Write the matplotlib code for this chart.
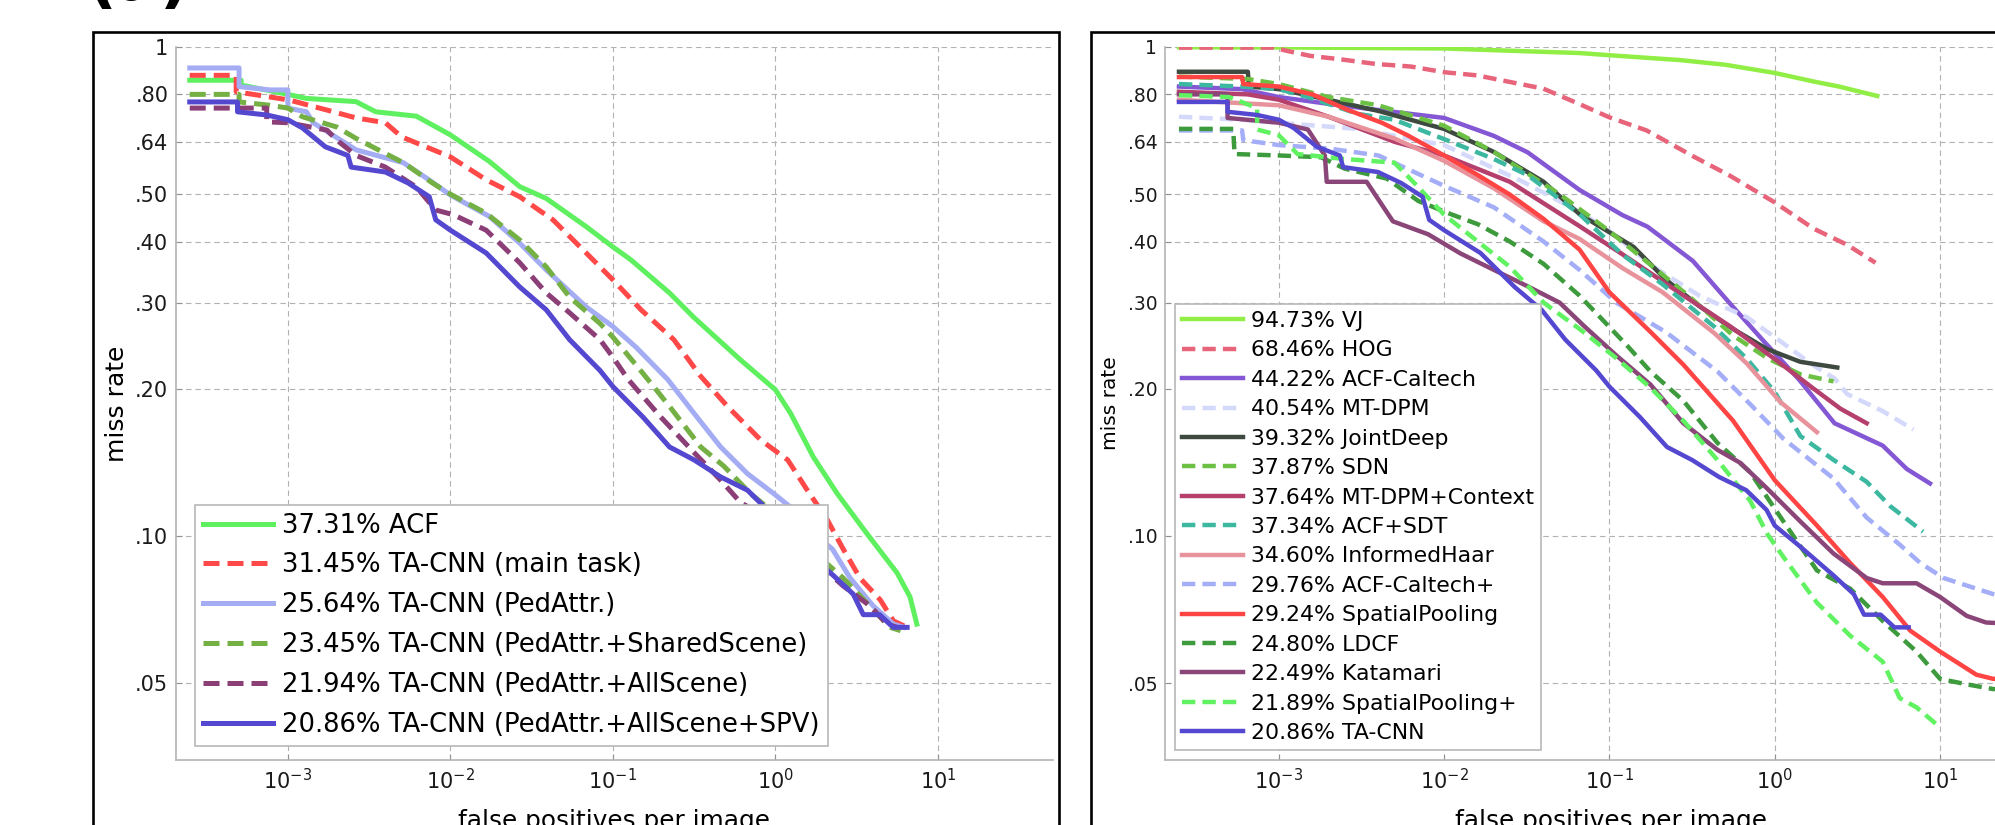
import numpy as np
import matplotlib
matplotlib.use('Agg')
import matplotlib.pyplot as plt
from matplotlib.patches import Rectangle
from matplotlib.ticker import NullLocator

plt.rcParams['font.family'] = ['DejaVu Sans']
plt.rcParams['mathtext.default'] = 'regular'

# ---- left panel: TA-CNN variants vs ACF ----
acf_fppi = [2.49e-4, 5.16e-4, 5.16e-4, 1.0e-3, 1.30e-3, 2.63e-3, 3.47e-3, 6.17e-3, 1.0e-2, 1.74e-2, 2.67e-2, 3.89e-2, 6.85e-2,
            0.10, 0.129, 0.223, 0.314, 0.61, 1.0, 1.24, 1.71, 2.40, 3.66, 5.6, 6.73, 7.41]
acf_mr = [0.855, 0.855, 0.836, 0.80, 0.785, 0.773, 0.737, 0.722, 0.661, 0.583, 0.518, 0.49, 0.429,
          0.39, 0.367, 0.314, 0.28, 0.229, 0.199, 0.178, 0.145, 0.122, 0.101, 0.084, 0.075, 0.066]

main_fppi = [2.49e-4, 4.81e-4, 4.81e-4, 1.02e-3, 1.74e-3, 2.63e-3, 3.98e-3, 5.01e-3, 1.0e-2, 1.66e-2, 2.67e-2, 4.28e-2, 6.85e-2,
             0.10, 0.149, 0.237, 0.347, 0.507, 0.813, 1.19, 1.57, 2.08, 2.61, 3.31, 4.41, 5.32, 6.46]
main_mr = [0.875, 0.875, 0.81, 0.779, 0.743, 0.716, 0.70, 0.655, 0.596, 0.535, 0.494, 0.443, 0.379,
           0.334, 0.29, 0.252, 0.212, 0.184, 0.157, 0.143, 0.124, 0.108, 0.094, 0.082, 0.074, 0.067, 0.065]

ped_fppi = [2.49e-4, 5.01e-4, 5.01e-4, 7.76e-4, 1.0e-3, 1.0e-3, 1.30e-3, 1.43e-3, 2.63e-3, 5.13e-3, 7.08e-3, 1.0e-2, 1.74e-2,
            2.67e-2, 3.89e-2, 6.85e-2, 0.10, 0.139, 0.217, 0.316, 0.46, 0.673, 0.977, 1.30, 1.78, 2.24, 2.88, 3.98, 5.32, 6.17]
ped_mr = [0.906, 0.906, 0.83, 0.817, 0.817, 0.75, 0.737, 0.70, 0.616, 0.58, 0.54, 0.498, 0.45,
          0.397, 0.35, 0.294, 0.268, 0.243, 0.209, 0.178, 0.152, 0.134, 0.122, 0.113, 0.10, 0.094, 0.082, 0.072, 0.066, 0.065]

shared_fppi = [2.49e-4, 5.01e-4, 5.01e-4, 7.76e-4, 1.0e-3, 1.23e-3, 2.0e-3, 2.63e-3, 3.47e-3, 5.13e-3, 7.76e-3, 1.0e-2, 1.66e-2,
               2.67e-2, 3.89e-2, 5.41e-2, 8.32e-2, 0.10, 0.153, 0.223, 0.347, 0.48, 0.703, 0.933, 1.58, 2.61, 3.78, 5.07, 5.89]
shared_mr = [0.80, 0.80, 0.772, 0.76, 0.75, 0.72, 0.686, 0.65, 0.62, 0.58, 0.527, 0.50, 0.457,
             0.403, 0.355, 0.308, 0.272, 0.255, 0.215, 0.184, 0.152, 0.139, 0.122, 0.113, 0.095, 0.082, 0.072, 0.065, 0.064]

allsc_fppi = [2.49e-4, 7.41e-4, 7.41e-4, 1.0e-3, 1.74e-3, 2.0e-3, 2.63e-3, 3.98e-3, 6.17e-3, 8.13e-3, 1.04e-2, 1.66e-2, 2.67e-2,
              3.89e-2, 5.41e-2, 8.32e-2, 0.10, 0.124, 0.197, 0.316, 0.46, 0.61, 0.733, 1.41, 2.61, 3.8, 4.86, 5.62]
allsc_mr = [0.75, 0.75, 0.703, 0.70, 0.676, 0.645, 0.60, 0.568, 0.517, 0.464, 0.454, 0.422, 0.362,
            0.314, 0.286, 0.252, 0.232, 0.209, 0.175, 0.148, 0.13, 0.117, 0.113, 0.095, 0.079, 0.072, 0.066, 0.065]

# full TA-CNN, same curve in both panels
tacnn_fppi = [2.49e-4, 4.9e-4, 4.9e-4, 7.41e-4, 1.0e-3, 1.23e-3, 1.70e-3, 2.34e-3, 2.45e-3, 3.98e-3, 5.5e-3, 7.41e-3, 8.13e-3,
              1.0e-2, 1.66e-2, 2.67e-2, 3.89e-2, 5.41e-2, 8.32e-2, 0.10, 0.153, 0.223, 0.316, 0.46, 0.673, 0.893, 1.0,
              1.43, 2.27, 3.01, 3.47, 4.37, 5.3, 6.46]
tacnn_mr = [0.772, 0.772, 0.737, 0.726, 0.71, 0.683, 0.625, 0.60, 0.568, 0.555, 0.527, 0.494, 0.443,
            0.422, 0.379, 0.323, 0.29, 0.252, 0.218, 0.202, 0.175, 0.152, 0.143, 0.132, 0.124, 0.113, 0.105,
            0.095, 0.083, 0.076, 0.069, 0.069, 0.065, 0.065]

left_labels = ['37.31% ACF', '31.45% TA-CNN (main task)', '25.64% TA-CNN (PedAttr.)',
               '23.45% TA-CNN (PedAttr.+SharedScene)', '21.94% TA-CNN (PedAttr.+AllScene)',
               '20.86% TA-CNN (PedAttr.+AllScene+SPV)']

# ---- right panel: comparison with other methods ----
vj_fppi = [2.49e-4, 1e-3, 1e-2, 3.16e-2, 6.6e-2, 0.1, 0.27, 0.5, 1.0, 1.72, 2.45, 4.17]
vj_mr = [0.999, 0.998, 0.993, 0.98, 0.972, 0.962, 0.94, 0.92, 0.885, 0.85, 0.83, 0.794]

hog_fppi = [2.49e-4, 9.33e-4, 1.12e-3, 1.55e-3, 2.34e-3, 3.89e-3, 6.31e-3, 1.0e-2, 1.58e-2, 2.51e-2, 3.98e-2, 6.61e-2,
            0.10, 0.168, 0.323, 0.538, 1.0, 1.72, 2.74, 4.07]
hog_mr = [0.997, 0.997, 0.982, 0.959, 0.944, 0.923, 0.912, 0.888, 0.875, 0.848, 0.822, 0.764,
          0.718, 0.675, 0.597, 0.545, 0.481, 0.425, 0.394, 0.362]

acfc_fppi = [2.49e-4, 6e-4, 1e-3, 2e-3, 3.9e-3, 1e-2, 2e-2, 3.2e-2, 6.6e-2, 0.12, 0.17, 0.32, 0.54, 0.86, 1.4, 2.3, 4.5, 6.3, 8.7]
acfc_mr = [0.83, 0.82, 0.79, 0.765, 0.744, 0.716, 0.658, 0.609, 0.51, 0.453, 0.429, 0.365, 0.298, 0.25, 0.209, 0.17, 0.153, 0.137, 0.128]

mtdpm_fppi = [2.49e-4, 6e-4, 1e-3, 3e-3, 1e-2, 3e-2, 6.6e-2, 0.1, 0.19, 0.35, 0.68, 1.0, 1.72, 2.3, 2.74, 4.5, 6.9]
mtdpm_mr = [0.72, 0.71, 0.70, 0.68, 0.63, 0.53, 0.46, 0.42, 0.353, 0.31, 0.28, 0.255, 0.223, 0.21, 0.195, 0.18, 0.165]

jd_fppi = [2.49e-4, 6.5e-4, 6.6e-4, 1e-3, 2e-3, 4e-3, 1e-2, 2e-2, 4e-2, 6.6e-2, 0.14, 0.22, 0.35, 0.56, 0.9, 1.43, 2.39]
jd_mr = [0.89, 0.89, 0.83, 0.82, 0.78, 0.74, 0.68, 0.61, 0.53, 0.455, 0.39, 0.334, 0.295, 0.265, 0.241, 0.227, 0.221]

sdn_fppi = [2.49e-4, 6.5e-4, 1e-3, 2e-3, 4e-3, 1e-2, 2e-2, 5e-2, 0.1, 0.3, 0.56, 0.9, 1.43, 2.27]
sdn_mr = [0.87, 0.86, 0.84, 0.79, 0.76, 0.69, 0.61, 0.50, 0.42, 0.31, 0.257, 0.231, 0.214, 0.207]

ctx_fppi = [2.49e-4, 6.5e-4, 1e-3, 2e-3, 5e-3, 1e-2, 2.5e-2, 6.6e-2, 0.13, 0.27, 0.54, 1.0, 1.72, 2.5, 3.6]
ctx_mr = [0.81, 0.80, 0.78, 0.72, 0.64, 0.60, 0.53, 0.43, 0.37, 0.313, 0.268, 0.23, 0.2, 0.182, 0.17]

sdt_fppi = [2.49e-4, 6e-4, 1e-3, 1.5e-3, 3e-3, 5e-3, 1e-2, 2e-2, 3.2e-2, 6.6e-2, 0.12, 0.21, 0.43, 0.68, 1.0, 1.43, 2.27, 3.6, 5.0, 7.9]
sdt_mr = [0.84, 0.83, 0.82, 0.79, 0.73, 0.71, 0.648, 0.59, 0.547, 0.455, 0.376, 0.327, 0.268, 0.23, 0.197, 0.16, 0.143, 0.129, 0.115, 0.102]

haar_fppi = [2.49e-4, 5e-4, 1e-3, 2e-3, 5e-3, 1e-2, 2e-2, 4e-2, 6.6e-2, 0.12, 0.21, 0.43, 0.68, 1.08, 1.8]
haar_mr = [0.78, 0.77, 0.76, 0.72, 0.65, 0.585, 0.514, 0.44, 0.405, 0.353, 0.315, 0.26, 0.225, 0.188, 0.163]

acfp_fppi = [2.49e-4, 6e-4, 6.1e-4, 1e-3, 2e-3, 4e-3, 1e-2, 2e-2, 4e-2, 6.6e-2, 0.11, 0.22, 0.45, 0.71, 1.13, 2.27,
             3.6, 5.7, 7.6, 10.5, 21, 40]
acfp_mr = [0.675, 0.675, 0.645, 0.63, 0.62, 0.60, 0.52, 0.47, 0.40, 0.35, 0.30, 0.261, 0.217, 0.186, 0.158, 0.131,
           0.109, 0.096, 0.088, 0.082, 0.076, 0.072]

sp_fppi = [2.49e-4, 6e-4, 6.1e-4, 1e-3, 1.6e-3, 2.6e-3, 4.2e-3, 6e-3, 1e-2, 1.6e-2, 2.5e-2, 4e-2, 6.6e-2, 0.1, 0.18,
           0.28, 0.56, 1.0, 1.8, 2.86, 4.5, 6.6, 10, 16.6, 21, 40]
sp_mr = [0.868, 0.868, 0.84, 0.83, 0.80, 0.744, 0.70, 0.66, 0.60, 0.547, 0.499, 0.445, 0.385, 0.315, 0.26,
         0.224, 0.172, 0.13, 0.105, 0.088, 0.075, 0.064, 0.058, 0.052, 0.051, 0.051]

ldcf_fppi = [2.49e-4, 5.3e-4, 5.4e-4, 1e-3, 1.8e-3, 2.5e-3, 4.5e-3, 7e-3, 1.1e-2, 1.6e-2, 2.5e-2, 4e-2, 6.6e-2, 0.128,
             0.177, 0.28, 0.45, 0.71, 1.13, 1.8, 2.86, 4.5, 7.2, 10, 14.5, 21, 40]
ldcf_mr = [0.68, 0.68, 0.604, 0.60, 0.595, 0.564, 0.538, 0.484, 0.455, 0.434, 0.40, 0.36, 0.31, 0.245,
           0.217, 0.189, 0.155, 0.135, 0.107, 0.085, 0.078, 0.067, 0.058, 0.051, 0.0497, 0.0486, 0.0486]

kat_fppi = [2.49e-4, 4.9e-4, 4.9e-4, 1.0e-3, 1.5e-3, 1.9e-3, 1.95e-3, 3.4e-3, 4.9e-3, 8e-3, 1.26e-2, 2e-2, 3.2e-2, 5e-2,
            7e-2, 0.11, 0.177, 0.28, 0.45, 0.62, 0.9, 1.43, 2.27, 3.6, 4.5, 7.2, 10, 14.5, 19, 30]
kat_mr = [0.80, 0.80, 0.716, 0.70, 0.678, 0.60, 0.53, 0.53, 0.44, 0.414, 0.378, 0.35, 0.324, 0.30,
          0.269, 0.234, 0.204, 0.17, 0.15, 0.141, 0.125, 0.107, 0.092, 0.082, 0.08, 0.08, 0.075, 0.0686, 0.0665, 0.066]

spp_fppi = [2.49e-4, 5e-4, 7.4e-4, 7.4e-4, 1e-3, 1.3e-3, 2.5e-3, 5e-3, 6.5e-3, 1e-2, 1.6e-2, 2.5e-2, 4e-2, 6.6e-2,
            0.11, 0.177, 0.28, 0.45, 0.71, 0.9, 1.13, 1.8, 2.86, 4.5, 5.7, 7.2, 10]
spp_mr = [0.797, 0.79, 0.75, 0.678, 0.66, 0.604, 0.59, 0.58, 0.53, 0.454, 0.40, 0.355, 0.30, 0.265,
          0.231, 0.201, 0.172, 0.143, 0.118, 0.101, 0.0905, 0.073, 0.0625, 0.0553, 0.0466, 0.0446, 0.0406]

right_labels = ['94.73% VJ', '68.46% HOG', '44.22% ACF-Caltech', '40.54% MT-DPM', '39.32% JointDeep',
                '37.87% SDN', '37.64% MT-DPM+Context', '37.34% ACF+SDT', '34.60% InformedHaar',
                '29.76% ACF-Caltech+', '29.24% SpatialPooling', '24.80% LDCF', '22.49% Katamari',
                '21.89% SpatialPooling+', '20.86% TA-CNN']

ytick_vals = [0.05, 0.10, 0.20, 0.30, 0.40, 0.50, 0.64, 0.80, 1.0]
ytick_labels = ['.05', '.10', '.20', '.30', '.40', '.50', '.64', '.80', '1']
xtick_vals = [1e-3, 1e-2, 1e-1, 1, 10]

W, H = 1995, 825
fig = plt.figure(figsize=(W / 100, H / 100), dpi=100)


def px_box(x0, x1, ytop, ybot):
    return [x0 / W, 1 - ybot / H, (x1 - x0) / W, (ybot - ytop) / H]


ax1 = fig.add_axes(px_box(176, 1053, 47, 760))
ax2 = fig.add_axes(px_box(1165, 2057, 47, 760))

DASH_L = (0, (3.2, 1.6))
DASH_R = (0, (3.0, 1.6))

left_series = [
    (acf_fppi, acf_mr, '#5ff060', '-'),
    (main_fppi, main_mr, '#ff4848', DASH_L),
    (ped_fppi, ped_mr, '#a4acf4', '-'),
    (shared_fppi, shared_mr, '#74b043', DASH_L),
    (allsc_fppi, allsc_mr, '#8c3e76', DASH_L),
    (tacnn_fppi, tacnn_mr, '#5548d0', '-'),
]
for (f, m, c, ls), lab in zip(left_series, left_labels):
    ax1.plot(f, m, color=c, ls=ls, lw=3.6, label=lab)

right_series = [
    (vj_fppi, vj_mr, '#90ee44', '-'),
    (hog_fppi, hog_mr, '#e8647a', DASH_R),
    (acfc_fppi, acfc_mr, '#8458d4', '-'),
    (mtdpm_fppi, mtdpm_mr, '#d4d8fa', DASH_R),
    (jd_fppi, jd_mr, '#3e4a40', '-'),
    (sdn_fppi, sdn_mr, '#6cc044', DASH_R),
    (ctx_fppi, ctx_mr, '#b5406e', '-'),
    (sdt_fppi, sdt_mr, '#3cb8a0', DASH_R),
    (haar_fppi, haar_mr, '#e8939c', '-'),
    (acfp_fppi, acfp_mr, '#a4aef8', DASH_R),
    (sp_fppi, sp_mr, '#ff4444', '-'),
    (ldcf_fppi, ldcf_mr, '#3d9a3d', DASH_R),
    (kat_fppi, kat_mr, '#8a4678', '-'),
    (spp_fppi, spp_mr, '#60f260', DASH_R),
    (tacnn_fppi, tacnn_mr, '#5548d0', '-'),
]
for (f, m, c, ls), lab in zip(right_series, right_labels):
    ax2.plot(f, m, color=c, ls=ls, lw=3.2, label=lab)

# per-panel text sizes: (tick, ylabel, ylabel x in axes coords)
panel_fmt = {ax1: (15, 18, -0.054), ax2: (13.5, 14.5, -0.05)}

for ax in (ax1, ax2):
    tick_fs, ylab_fs, ylab_x = panel_fmt[ax]
    ax.set_xscale('log')
    ax.set_yscale('log')
    ax.set_xlim(2.05e-4, 51)
    ax.set_ylim(0.0348, 1.0)
    ax.set_xticks(xtick_vals)
    ax.set_yticks(ytick_vals)
    ax.set_yticklabels(ytick_labels)
    ax.xaxis.set_minor_locator(NullLocator())
    ax.yaxis.set_minor_locator(NullLocator())
    ax.grid(True, color='#b2b2b2', ls=(0, (5, 3.5)), lw=0.8)
    ax.set_axisbelow(True)
    for s in ('top', 'right'):
        ax.spines[s].set_visible(False)
    for s in ('left', 'bottom'):
        ax.spines[s].set_color('#b4b4b4')
        ax.spines[s].set_linewidth(1.2)
    ax.tick_params(direction='in', length=4, color='#909090', labelsize=tick_fs, pad=5.5, labelcolor='#1a1a1a')
    ax.tick_params(axis='x', labelsize=15)
    ax.set_ylabel('miss rate', fontsize=ylab_fs)
    ax.yaxis.set_label_coords(ylab_x, 0.5)
    ax.set_xlabel('false positives per image', fontsize=17.8)
    ax.xaxis.set_label_coords(0.5, -0.0687)

leg1 = ax1.legend(loc='lower left', bbox_to_anchor=(0.022, 0.02), borderaxespad=0, fontsize=18.6,
                  handlelength=2.7, handletextpad=0.35, labelspacing=0.535, borderpad=0.31,
                  fancybox=False, framealpha=1, edgecolor='#b8b8b8')
leg1.get_frame().set_linewidth(1.2)

leg2 = ax2.legend(loc='lower left', bbox_to_anchor=(0.011, 0.014), borderaxespad=0, fontsize=15.8,
                  handlelength=2.8, handletextpad=0.33, labelspacing=0.43, borderpad=0.32,
                  fancybox=False, framealpha=1, edgecolor='#b8b8b8')
leg2.get_frame().set_linewidth(1.2)

# black frames around each sub-figure
fig.add_artist(Rectangle((93 / W, -0.1), (1059 - 93) / W, 1.1 - 32 / H, transform=fig.transFigure,
                         fill=False, ec='black', lw=1.9))
fig.add_artist(Rectangle((1091 / W, -0.1), 0.6, 1.1 - 32 / H, transform=fig.transFigure,
                         fill=False, ec='black', lw=1.9))

fig.text(86 / W, 1.0, '(a)', fontsize=47, fontweight='bold', ha='left', va='baseline')

fig.savefig('out.png', dpi=100)
